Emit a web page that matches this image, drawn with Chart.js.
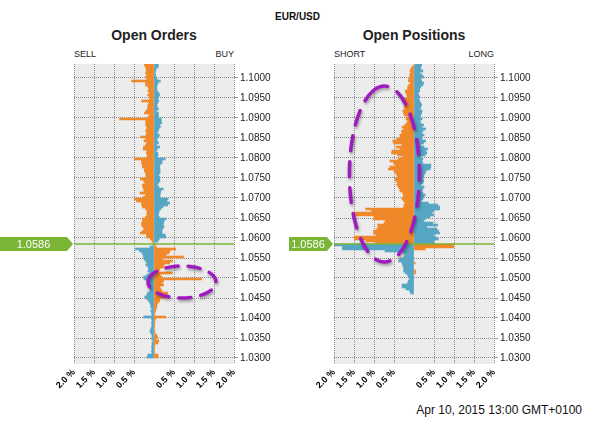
<!DOCTYPE html>
<html>
<head>
<meta charset="utf-8">
<title>EUR/USD open orders and positions</title>
<script src="https://cdn.jsdelivr.net/npm/chart.js@4"></script>
<style>
  html, body { margin: 0; padding: 0; background: #fff; }
  body {
    width: 595px; height: 428px; position: relative; overflow: hidden;
    font-family: "Liberation Sans", Arial, sans-serif; color: #111;
  }
  .txt { position: absolute; white-space: nowrap; }
  .pair { left: 0; width: 595px; top: 11px; text-align: center; font: bold 10px/12px "Liberation Sans", Arial, sans-serif; }
  .head { top: 27px; width: 200px; text-align: center; font: bold 14px/16px "Liberation Sans", Arial, sans-serif; color: #222; }
  .side { top: 49px; width: 100px; font: 9px/10px "Liberation Sans", Arial, sans-serif; color: #222; }
  .stamp { right: 13px; top: 403px; font: 12px/14px "Liberation Sans", Arial, sans-serif; color: #111; }
  canvas { position: absolute; top: 0; }
</style>
</head>
<body>

<div class="txt pair">EUR/USD</div>
<div class="txt head" style="left:54px">Open Orders</div>
<div class="txt head" style="left:314px">Open Positions</div>
<div class="txt side" style="left:74px">SELL</div>
<div class="txt side" style="left:134px;text-align:right">BUY</div>
<div class="txt side" style="left:334px">SHORT</div>
<div class="txt side" style="left:394px;text-align:right">LONG</div>
<div class="txt stamp">Apr 10, 2015 13:00 GMT+0100</div>

<canvas id="orders" width="285" height="428" style="left:0"></canvas>
<canvas id="positions" width="310" height="428" style="left:285px"></canvas>

<script>
// price buckets (0.0005 wide), listed from the top of the chart down
const priceLevels = Array.from({ length: 147 }, (_, i) => +(1.10325 - i * 0.0005).toFixed(5));
const currentPrice = 1.0586;

const yTickValues = [1.1000, 1.0950, 1.0900, 1.0850, 1.0800, 1.0750, 1.0700, 1.0650,
                     1.0600, 1.0550, 1.0500, 1.0450, 1.0400, 1.0350, 1.0300];
const xTickValues = [-2, -1.5, -1, -0.5, 0, 0.5, 1, 1.5, 2];

// % of book on the left / right side of each bucket (open orders)
const ordersLeft = [
  .24,.21,.20,.19,.21,.18,.21,.18,.56,.21,
  .21,.15,.13,.15,.11,.16,.11,.11,.31,.13,
  .15,.16,.16,.20,.24,.11,.15,.86,.21,.20,
  .21,.18,.18,.21,.18,.20,.33,.21,.25,.18,
  .21,.26,.27,.18,.19,
  .16,.18,.49,.31,.31,.29,.29,.24,.24,.21,
  .20,.20,.34,.26,.23,.29,.28,.26,.25,.35,
  .21,.26,.49,.44,.31,.31,.29,.21,.17,.18,
  .17,.21,.29,.28,.31,.31,.28,.24,.29,.34,
  .19,.19,.09,.05,.02,
  .02,.10,.46,.36,.30,.27,.26,.25,.21,.18,
  .20,.15,.13,.15,.11,.18,.26,.25,.11,.10,
  .11,.13,.10,.10,.16,.18,.23,.18,.13,.10,
  .08,.08,.05,.08,.06,.05,.26,.06,.05,.06,
  .05,.06,.08,.10,.08,.05,.05,.06,.03,.05,
  .05,.06,.05,.06,.05,.15,.17
];
const ordersRight = [
  .11,.10,.05,.04,.03,.04,.05,.07,.16,.10,
  .08,.07,.07,.08,.12,.14,.11,.09,.12,.09,
  .07,.08,.11,.06,.11,.11,.11,.18,.18,.19,
  .14,.16,.12,.10,.08,.13,.12,.07,.08,.11,
  .06,.14,.08,.05,.09,
  .10,.08,.28,.20,.20,.15,.14,.15,.15,.15,
  .11,.14,.14,.15,.11,.08,.12,.23,.17,.16,
  .15,.15,.35,.32,.39,.34,.22,.17,.13,.12,
  .10,.13,.30,.25,.24,.23,.25,.21,.20,.20,
  .28,.29,.13,.10,.02,
  .02,.06,.54,.40,.37,.30,.74,.22,.46,.39,
  .25,.25,.15,.12,.46,.15,.20,1.19,.24,.20,
  .24,.15,.17,.20,.34,.32,.34,.15,.14,.10,
  .07,.07,.05,.04,.02,.02,.29,.04,.02,.02,
  .02,.01,.01,.02,.02,.07,.09,.05,.12,.10,
  .02,.02,.01,.01,.01,.10,.10
];

// open positions
const positionsLeft = [
  0,.05,.08,.10,.08,.11,.10,.13,.14,.08,
  .13,.16,.16,.22,.20,.18,.16,.28,.25,.20,
  .21,.25,.23,.28,.26,.25,.16,.20,.16,.18,
  .23,.30,.26,.31,.30,.35,.35,.43,.53,.51,
  .30,.45,.35,.55,.56,
  .41,.28,.40,.60,.51,.46,.60,.64,.50,.46,
  .43,.41,.47,.45,.41,.43,.39,.36,.35,.28,
  .26,.28,.30,.26,.22,.25,.26,1.21,1.06,1.48,
  1.48,1.00,1.01,.72,.75,.91,.90,.93,1.01,1.01,
  .95,1.50,1.49,1.20,.95,
  2.0,1.79,1.79,.72,.26,.22,.25,.35,.38,.30,
  .28,.26,.25,.26,.22,.16,.14,.11,.14,.16,
  .30,.30,.20,.11,.08
];
const positionsRight = [
  .19,.17,.17,.22,.15,.20,.24,.17,.19,.24,
  .22,.17,.14,.14,.10,.12,.14,.12,.14,.17,
  .19,.17,.15,.20,.19,.17,.15,.20,.15,.17,
  .24,.20,.29,.22,.19,.25,.20,.20,.29,.24,
  .17,.25,.34,.29,.32,
  .28,.17,.22,.20,.22,.42,.42,.40,.30,.28,
  .25,.24,.22,.24,.22,.17,.25,.22,.20,.22,
  .28,.24,.22,.17,.36,.59,.64,.64,.49,.45,
  .49,.40,.28,.24,.47,.59,.32,.57,.61,.64,
  .49,.55,.61,.49,.50,
  .99,.99,.28,0,0,0,0,0,0,.03,
  0,0,0,.04,.04
];

const orange = '#f0892a';
const blue = '#56a6c4';
const green = '#7ab535';
const gridColor = '#8c8c8c';
const plotBg = '#ececec';
const ringColor = '#9e1cbf';
const font = '"Liberation Sans", Arial, sans-serif';

Chart.defaults.font.family = font;

// plot background, current price line + tag, hand drawn rings
const bookPlugin = {
  id: 'book',
  beforeDraw(chart) {
    const { ctx, chartArea: a } = chart;
    ctx.save();
    ctx.fillStyle = plotBg;
    ctx.fillRect(a.left, a.top, a.width, a.height);
    ctx.restore();
  },
  afterDatasetsDraw(chart, args, opts) {
    const { ctx, chartArea: a, scales } = chart;
    const y = Math.round(scales.y.getPixelForValue(currentPrice));
    ctx.save();
    ctx.strokeStyle = green;
    ctx.lineWidth = 1.5;
    ctx.beginPath();
    ctx.moveTo(a.left, y);
    ctx.lineTo(a.right, y);
    ctx.stroke();

    const tip = a.left - 1;
    const boxRight = tip - 6;
    const boxLeft = a.left - opts.tagWidth;
    ctx.fillStyle = green;
    ctx.beginPath();
    ctx.moveTo(boxLeft, y - 7);
    ctx.lineTo(boxRight, y - 7);
    ctx.lineTo(tip, y);
    ctx.lineTo(boxRight, y + 7);
    ctx.lineTo(boxLeft, y + 7);
    ctx.closePath();
    ctx.fill();
    ctx.fillStyle = '#fff';
    ctx.font = '11px ' + font;
    ctx.textAlign = 'center';
    ctx.textBaseline = 'middle';
    ctx.fillText(currentPrice.toFixed(4), (boxLeft + boxRight) / 2, y + 0.5);
    ctx.restore();
  },
  afterDraw(chart, args, opts) {
    const r = opts.ring;
    if (!r) return;
    const { ctx, scales } = chart;
    const cx = scales.x.getPixelForValue(r.x);
    const cy = scales.y.getPixelForValue(r.y);
    const rx = Math.abs(scales.x.getPixelForValue(r.x + r.rx) - cx);
    const ry = Math.abs(scales.y.getPixelForValue(r.y + r.ry) - cy);
    ctx.save();
    ctx.strokeStyle = ringColor;
    ctx.lineWidth = 3.5;
    ctx.lineCap = 'round';
    ctx.setLineDash(r.dash);
    ctx.shadowColor = 'rgba(0,0,0,0.35)';
    ctx.shadowBlur = 3;
    ctx.shadowOffsetX = 1;
    ctx.shadowOffsetY = 2;
    ctx.beginPath();
    ctx.ellipse(cx, cy, rx, ry, 0, r.start, r.start + Math.PI * 2);
    ctx.stroke();
    ctx.restore();
  }
};

function makeBook(id, leftVals, rightVals, padding, opts) {
  const above = c => c.raw && c.raw.y > currentPrice;
  return new Chart(document.getElementById(id), {
    type: 'bar',
    plugins: [bookPlugin],
    data: {
      datasets: [
        {
          data: leftVals.map((v, i) => ({ x: -v, y: priceLevels[i] })),
          backgroundColor: c => above(c) ? orange : blue,
          stack: 'book', categoryPercentage: 1, barPercentage: 1, borderWidth: 0
        },
        {
          data: rightVals.map((v, i) => ({ x: v, y: priceLevels[i] })),
          backgroundColor: c => above(c) ? blue : orange,
          stack: 'book', categoryPercentage: 1, barPercentage: 1, borderWidth: 0
        }
      ]
    },
    options: {
      indexAxis: 'y',
      responsive: false,
      animation: false,
      devicePixelRatio: 1,
      layout: { padding },
      plugins: {
        legend: { display: false },
        tooltip: { enabled: false },
        book: opts
      },
      scales: {
        x: {
          type: 'linear', min: -2, max: 2, stacked: true, offset: false,
          afterBuildTicks: s => { s.ticks = xTickValues.map(v => ({ value: v })); },
          afterFit: s => { s.height = 34; },
          border: { display: false, dash: [1, 1] },
          grid: {
            drawTicks: false, offset: false,
            color: c => (c.tick && c.tick.value === 0) ? 'rgba(0,0,0,0)' : gridColor
          },
          ticks: {
            autoSkip: false, minRotation: 45, maxRotation: 45, padding: 3,
            color: '#000', font: { size: 9, weight: 'bold' },
            callback: v => v === 0 ? '' : Math.abs(v).toFixed(1) + ' %'
          }
        },
        y: {
          type: 'linear', position: 'right', min: 1.0285, max: 1.1035,
          offset: false, grace: 0,
          afterBuildTicks: s => { s.ticks = yTickValues.map(v => ({ value: v })); },
          afterFit: s => { s.width = 42; },
          border: { display: false, dash: [1, 1] },
          grid: { color: gridColor, tickLength: 4, tickColor: '#999', offset: false },
          ticks: {
            autoSkip: false, padding: 2, color: '#222', font: { size: 10 },
            callback: v => v.toFixed(4)
          }
        }
      }
    }
  });
}

makeBook('orders', ordersLeft, ordersRight,
  { left: 74, top: 64, right: 9, bottom: 30 },
  { tagWidth: 74, ring: { x: 0.70, y: 1.0490, rx: 0.85, ry: 0.0040, dash: [12, 10], start: 3.3 } });

makeBook('positions', positionsLeft, positionsRight,
  { left: 49, top: 64, right: 59, bottom: 30 },
  { tagWidth: 45, ring: { x: -0.74, y: 1.0760, rx: 0.875, ry: 0.022, dash: [15, 11], start: 4.4 } });
</script>
</body>
</html>
